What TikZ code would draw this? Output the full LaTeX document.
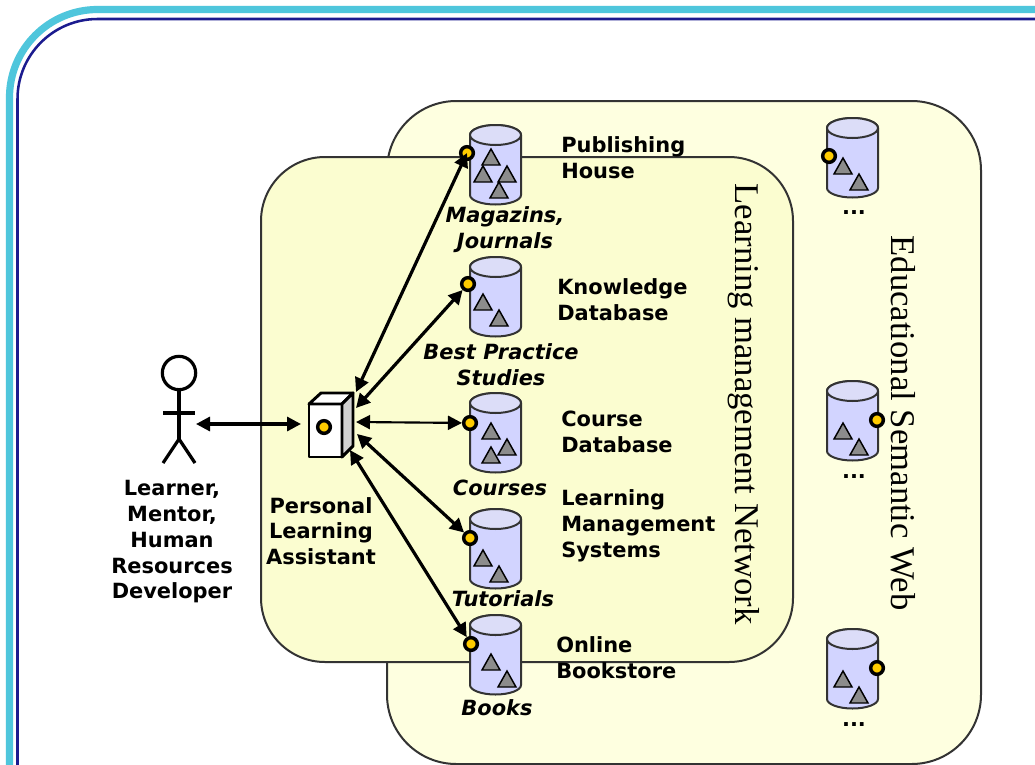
\documentclass[tikz,border=0pt]{standalone}
\usepackage{xcolor}
\usepackage{fontspec}
\usepackage{tikz}
\usetikzlibrary{arrows.meta}
\setmainfont{DejaVu Sans}
\newfontfamily\serifvert{Liberation Serif}
\definecolor{framecyan}{HTML}{4FC6DC}
\definecolor{framenavy}{HTML}{1B1B8F}
\definecolor{webyellow}{HTML}{FEFFE0}
\definecolor{lmsyellow}{HTML}{FBFDD0}
\definecolor{cylblue}{HTML}{D2D4FF}
\definecolor{cyltop}{HTML}{DCDDF8}
\definecolor{port}{HTML}{FFCC00}
\definecolor{edgegray}{HTML}{333333}

% cylinder: left x, top y
\newcommand{\dbcyl}[2]{
	\draw[cyl] (#1,#2+10) -- (#1,#2+70) arc[start angle=180,end angle=0,x radius=25.5,y radius=9.5] -- (#1+51,#2+10) arc[start angle=0,end angle=-180,x radius=25.5,y radius=10] -- cycle;
	\draw[cyl,fill=cyltop] (#1+25.5,#2+10) ellipse[x radius=25.5,y radius=10];
}
% triangle: apex x, apex y
\newcommand{\dbtri}[2]{
	\draw[tri] (#1,#2) -- (#1+9,#2+16) -- (#1-9,#2+16) -- cycle;
}

\begin{document}
\begin{tikzpicture}[x=0.75pt,y=-0.75pt,
	>={Triangle[length=10.5pt,width=10.5pt]},
	cyl/.style={draw=edgegray,line width=1.5pt,fill=cylblue},
	tri/.style={draw=black,line width=1.1pt,fill=gray!90,line join=miter},
	portdot/.style={circle,draw=black,fill=port,line width=2.6pt,inner sep=0pt,minimum size=9.5pt},
	region/.style={draw=edgegray,line width=1.5pt},
	link/.style={<->,line width=2.4pt},
	lbl/.style={font=\bfseries\fontsize{15.7}{19.3}\selectfont,align=left,anchor=west,inner sep=0pt},
	src/.style={font=\bfseries\itshape\fontsize{15.7}{19.3}\selectfont,align=center,inner sep=0pt},
	vert/.style={font=\serifvert\fontsize{26}{30}\selectfont,rotate=-90,inner sep=0pt},
	stick/.style={line width=2.4pt}]
	\clip (0,0) rectangle (1035,764);
	\fill[white] (0,0) rectangle (1035,764);

	\draw[framecyan,line width=5.4pt,rounded corners=66pt] (9.5,800) -- (9.5,9.5) -- (1060,9.5);
	\draw[framenavy,line width=1.9pt,rounded corners=60pt] (17.5,800) -- (17.5,19) -- (1060,19);

	\draw[region,fill=webyellow,rounded corners=52pt] (387,101) rectangle (981,764);
	\draw[region,fill=lmsyellow,rounded corners=48pt] (261,157) rectangle (793,662);

	\node[vert] (lmnet) at (744,404) {Learning management Network};
	\node[vert] (edweb) at (903,423) {Educational Semantic Web};

	\dbcyl{470}{125}
	\dbtri{491}{149} \dbtri{483}{166} \dbtri{507}{166} \dbtri{499}{182}
	\dbcyl{470}{257}
	\dbtri{483}{294} \dbtri{499}{310}
	\dbcyl{470}{393}
	\dbtri{491}{423} \dbtri{507}{439} \dbtri{491}{447}
	\dbcyl{470}{509}
	\dbtri{483}{550} \dbtri{499}{566}
	\dbcyl{470}{615}
	\dbtri{491}{654} \dbtri{507}{671}
	\dbcyl{827}{118}
	\dbtri{843}{158} \dbtri{859}{174}
	\dbcyl{827}{381}
	\dbtri{843}{423} \dbtri{859}{439}
	\dbcyl{827}{629}
	\dbtri{843}{671} \dbtri{859}{687}

	\node[portdot] (pwebA) at (829,156) {};
	\node[portdot] (pwebB) at (877,420) {};
	\node[portdot] (pwebC) at (877,668) {};
	\node[portdot] (pmag) at (467,153) {};
	\node[portdot] (pknow) at (468,284) {};
	\node[portdot] (pcourse) at (470,423) {};
	\node[portdot] (ptut) at (470,538) {};
	\node[portdot] (pbook) at (471,644) {};

	% assistant box
	\draw[line width=2.2pt,line join=round,fill=white] (309,404) -- (342,404) -- (342,457) -- (309,457) -- cycle;
	\draw[line width=2.2pt,line join=round,fill=white] (309,404) -- (321,393) -- (353,393) -- (342,404) -- cycle;
	\draw[line width=2.2pt,line join=round,fill=gray!35] (342,404) -- (353,393) -- (353,446) -- (342,457) -- cycle;
	\node[portdot] (ppla) at (324,427) {};

	\coordinate (plaL) at (301,424);
	\coordinate (plaA) at (356,392);
	\coordinate (plaB) at (356,408);
	\coordinate (plaC) at (356,422);
	\coordinate (plaD) at (357,434);
	\coordinate (plaE) at (350,450);

	% learner
	\node[circle,draw,line width=2.4pt,minimum size=25pt,inner sep=0pt] (head) at (179,373) {};
	\coordinate (hip) at (179,439);
	\coordinate (learnerR) at (196,424);
	\draw[stick] (head.south) -- (hip);
	\draw[stick] (163,413) -- (195,413);
	\draw[stick] (163,463) -- (hip) -- (195,463);

	\draw[link] (learnerR) -- (plaL);
	\draw[link] (plaA) -- (pmag.center);
	\draw[link] (plaB) -- (pknow);
	\draw[link,line width=1.6pt] (plaC) -- (pcourse);
	\draw[link] (plaD) -- (ptut);
	\draw[link] (plaE) -- (pbook);

	\node[lbl] (house) at (561,158) {Publishing\\House};
	\node[lbl] (know) at (557,300) {Knowledge\\Database};
	\node[lbl] (course) at (561,432) {Course\\Database};
	\node[lbl] (lms) at (561,526) {Learning\\Management\\Systems};
	\node[lbl] (store) at (556,658) {Online\\Bookstore};

	\node[src] (mag) at (505,230) {Magazins,\\Journals};
	\node[src] (best) at (501,365) {Best Practice\\Studies};
	\node[src] (cour) at (500,488) {Courses};
	\node[src] (tuto) at (503,599) {Tutorials};
	\node[src] (book) at (497,708) {Books};

	\node[lbl,align=center,anchor=center] (learner) at (172,542) {Learner,\\Mentor,\\Human\\Resources\\Developer};
	\node[lbl,align=center,anchor=center] (assist) at (321,531) {Personal\\Learning\\Assistant};

	\node[lbl,anchor=center] (moreA) at (854,213) {...};
	\node[lbl,anchor=center] (moreB) at (854,477) {...};
	\node[lbl,anchor=center] (moreC) at (854,725) {...};
\end{tikzpicture}
\end{document}
